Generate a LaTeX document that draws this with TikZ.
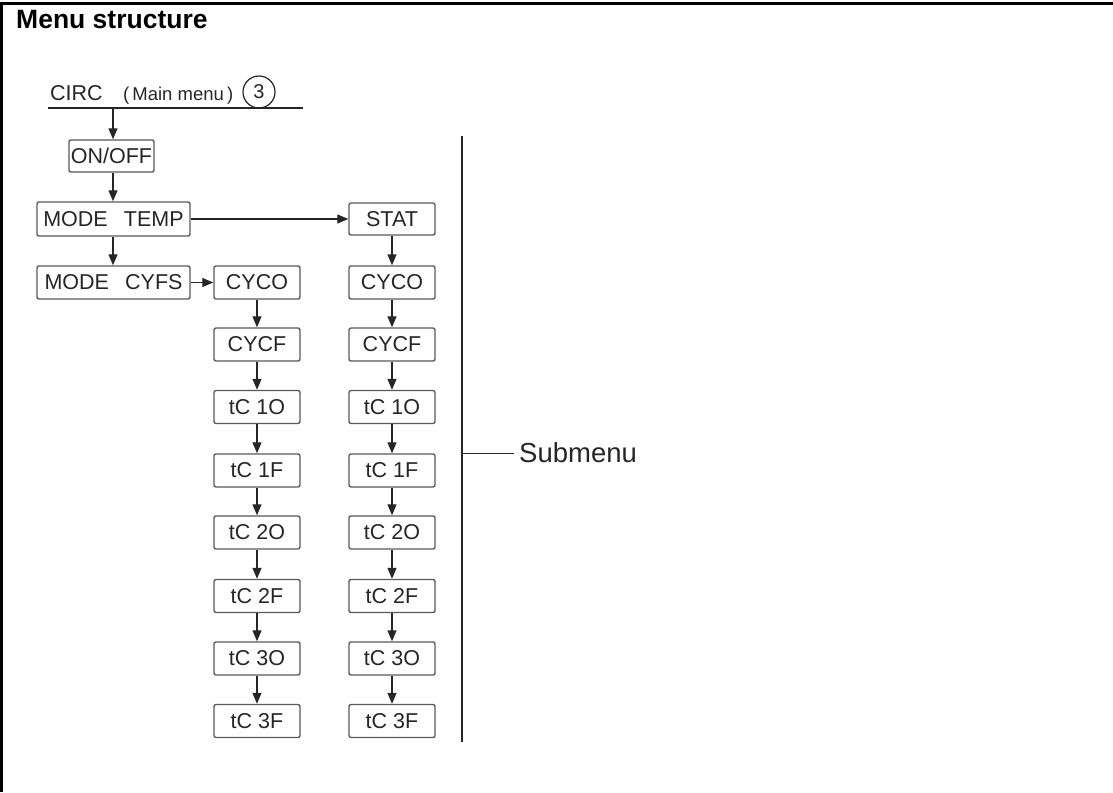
\documentclass[tikz,border=0pt]{standalone}
\usepackage{fontspec}
\setmainfont{Liberation Sans}
\usetikzlibrary{arrows.meta}
\definecolor{boxline}{HTML}{5A5A5A}
\definecolor{ink}{HTML}{262626}
\tikzset{
  menubox/.style={draw=boxline, line width=1.4pt, rounded corners=2pt, fill=white,
    minimum height=33pt, inner sep=0pt, font=\fontsize{21.5}{21.5}\selectfont, text=ink},
  colbox/.style={menubox, minimum width=86pt},
  flow/.style={draw=ink, line width=1.3pt, -{Triangle[length=11pt,width=9pt]}},
  plain/.style={draw=ink, line width=1.3pt}
}
\begin{document}
\begin{tikzpicture}[x=1pt,y=-1pt]
\useasboundingbox (0,0) rectangle (1113,792);
\fill[white] (0,0) rectangle (1113,792);
% frame
\draw[black, line width=3pt] (1.5,792) -- (1.5,3.5) -- (1113,3.5);
% title
\node[anchor=base west, inner sep=0pt, font=\bfseries\fontsize{26.5}{27}\selectfont] (title) at (16,29) {Menu structure};
% main menu header
\node[anchor=base west, inner sep=0pt, font=\fontsize{21.5}{21.5}\selectfont, text=ink] (circ) at (50,100) {CIRC};
\node[anchor=base west, inner sep=0pt, font=\fontsize{18.5}{18.5}\selectfont, text=ink] (mm) at (123,100) {(\,Main menu\,)};
\node[draw=ink, line width=1.2pt, circle, minimum size=32pt, inner sep=0pt, font=\fontsize{20}{20}\selectfont, text=ink] (three) at (259,92) {3};
\coordinate (ulL) at (48,108);
\coordinate (ulR) at (303,108);
\draw[plain] (ulL) -- (ulR);
\coordinate (ulA) at (113,108);
% main column
\node[menubox, minimum width=85pt, minimum height=32pt] (onoff) at (111.5,156) {ON/OFF};
\node[menubox, minimum width=153pt, minimum height=34pt] (temp) at (113.5,219) {MODE\hspace{0.75em}TEMP};
\node[menubox, minimum width=153pt] (cyfs) at (113.5,282.5) {MODE\hspace{0.75em}CYFS};
\draw[flow] (ulA) -- (ulA |- onoff.north);
\draw[flow] (ulA |- onoff.south) -- (ulA |- temp.north);
\draw[flow] (ulA |- temp.south) -- (ulA |- cyfs.north);
% left column
\node[colbox] (a1) at (257,282.5) {CYCO};
\node[colbox] (a2) at (257,344.5) {CYCF};
\node[colbox] (a3) at (257,407) {tC 1O};
\node[colbox] (a4) at (257,470.5) {tC 1F};
\node[colbox] (a5) at (257,532.5) {tC 2O};
\node[colbox] (a6) at (257,596) {tC 2F};
\node[colbox] (a7) at (257,658.5) {tC 3O};
\node[colbox] (a8) at (257,721) {tC 3F};
% right column
\node[colbox, minimum height=32pt] (s0) at (392,219) {STAT};
\node[colbox] (b1) at (392,282.5) {CYCO};
\node[colbox] (b2) at (392,344.5) {CYCF};
\node[colbox] (b3) at (392,407) {tC 1O};
\node[colbox] (b4) at (392,470.5) {tC 1F};
\node[colbox] (b5) at (392,532.5) {tC 2O};
\node[colbox] (b6) at (392,596) {tC 2F};
\node[colbox] (b7) at (392,658.5) {tC 3O};
\node[colbox] (b8) at (392,721) {tC 3F};
\draw[flow] (temp.east) -- (s0.west);
\draw[flow] (cyfs.east) -- (a1.west);
\foreach \u/\v in {a1/a2,a2/a3,a3/a4,a4/a5,a5/a6,a6/a7,a7/a8,s0/b1,b1/b2,b2/b3,b3/b4,b4/b5,b5/b6,b6/b7,b7/b8}
  \draw[flow] (\u.south) -- (\v.north);
% submenu bracket
\coordinate (vT) at (462,136);
\coordinate (vB) at (462,742);
\coordinate (tick) at (462,453);
\draw[plain] (vT) -- (vB);
\node[anchor=west, inner sep=0pt, font=\fontsize{27.5}{27.5}\selectfont, text=ink] (sub) at (519,453) {Submenu};
\draw[draw=ink, line width=1pt] (tick) -- ([xshift=-5pt]sub.west);
\end{tikzpicture}
\end{document}
